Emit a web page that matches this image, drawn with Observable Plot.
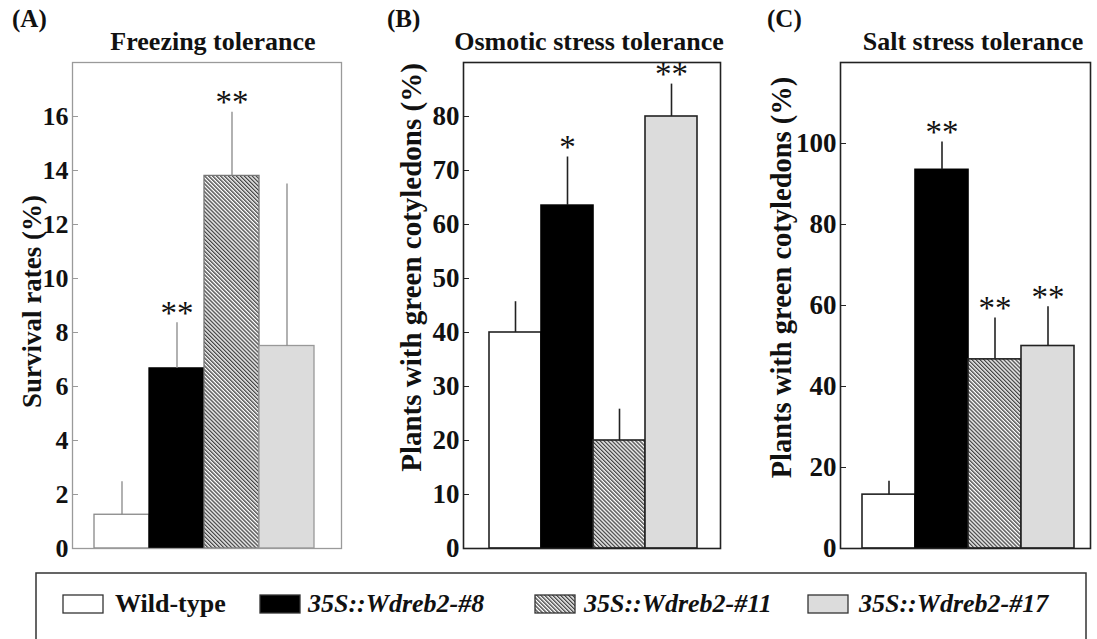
<!DOCTYPE html>
<html><head><meta charset="utf-8">
<script src="https://cdn.jsdelivr.net/npm/d3@7"></script>
<script src="https://cdn.jsdelivr.net/npm/@observablehq/plot@0.6"></script>
<style>
body{margin:0;background:#fff}
#root{position:relative;width:1097px;height:639px;overflow:hidden;background:#fff;font-family:"Liberation Serif","Times New Roman",serif;}
#root > svg{position:absolute;top:0}
</style></head>
<body><div id="root"></div>
<script>
// ---- data ----
const genotypes = ["Wild-type", "35S::Wdreb2-#8", "35S::Wdreb2-#11", "35S::Wdreb2-#17"];
const freezingMean = [1.25, 6.67, 13.8, 7.5];
const freezingSD   = [1.22, 1.69, 2.36, 6.0];
const freezingSig  = ["", "**", "**", ""];
const osmoticMean = [40, 63.5, 20, 80];
const osmoticSD   = [5.7, 9.0, 5.8, 6.0];
const osmoticSig  = ["", "*", "", "**"];
const saltMean = [13.3, 93.5, 46.7, 50];
const saltSD   = [3.3, 6.9, 10.2, 9.7];
const saltSig  = ["", "**", "**", "**"];
const freezingTicks = [0, 2, 4, 6, 8, 10, 12, 14, 16];
const osmoticTicks = [0, 10, 20, 30, 40, 50, 60, 70, 80];
const saltTicks = [0, 20, 40, 60, 80, 100];
const panelTags = ["(A)", "(B)", "(C)"];
const panelTitles = ["Freezing tolerance", "Osmotic stress tolerance", "Salt stress tolerance"];
const yLabels = ["Survival rates (%)", "Plants with green cotyledons (%)", "Plants with green cotyledons (%)"];

const fills = ["#ffffff", "#000000", "url(#hatch)", "#dcdcdc"];

const root = d3.select("#root");

// pattern defs
const defs = root.append("svg").attr("width", 0).attr("height", 0).style("position","absolute");
const pat = defs.append("defs").append("pattern")
  .attr("id", "hatch").attr("patternUnits", "userSpaceOnUse")
  .attr("width", 2.8).attr("height", 2.8).attr("patternTransform", "rotate(-45)");
pat.append("rect").attr("width", 2.8).attr("height", 2.8).attr("fill", "#fff");
pat.append("line").attr("x1", 0.7).attr("y1", 0).attr("x2", 0.7).attr("y2", 2.8)
  .attr("stroke", "#3a3a3a").attr("stroke-width", 1.3);

function panel(o) {
  const data = genotypes.map((g, i) => ({g, v: o.mean[i], hi: o.mean[i] + o.sd[i], s: o.sig[i]}));
  const chart = Plot.plot({
    width: o.width, height: 570,
    marginLeft: o.marginLeft, marginRight: o.marginRight, marginTop: 62, marginBottom: 22,
    style: {fontFamily: "'Liberation Serif', serif", background: "transparent", overflow: "visible", color: "#111"},
    x: {domain: genotypes, paddingInner: 0, paddingOuter: o.po, align: o.align, axis: null},
    y: {domain: o.domain, axis: null},
    marks: [
      ...genotypes.map((g, i) => Plot.barY(data.filter(d => d.g === g), {
        x: "g", y: "v", fill: fills[i], stroke: o.outline[i], strokeWidth: o.sw
      })),
      Plot.ruleX(data, {x: "g", y1: "v", y2: "hi", stroke: o.errColor, strokeWidth: o.sw}),
      Plot.text(data.filter(d => d.s), {x: "g", y: "hi", text: "s", lineAnchor: "bottom", dy: 1, fontSize: 33, fill: "#111"}),
      Plot.axisY({ticks: o.ticks, tickSize: 0, tickPadding: 4, fontSize: o.tickFont, fontWeight: "bold", label: null, fill: "#111"}),
      Plot.axisY({ticks: o.ticks, tickSize: -6, text: null, label: null, stroke: o.frameColor}),
      Plot.text([o.label], {frameAnchor: "left", rotate: -90, textAnchor: "middle", lineAnchor: "middle",
        dx: -o.labelOffset, dy: o.labelShift, fontSize: o.labelFont, fontWeight: "bold", fill: "#111"}),
      Plot.frame({stroke: o.frameColor, strokeWidth: o.sw})
    ]
  });
  d3.select(chart).style("left", o.left + "px");
  root.node().appendChild(chart);
}

panel({mean: freezingMean, sd: freezingSD, sig: freezingSig, domain: [0, 18], ticks: freezingTicks,
  label: yLabels[0], left: 0, width: 360, marginLeft: 72, marginRight: 19, po: 0.42, align: 0.45,
  frameColor: "#9a9a9a", errColor: "#888", outline: ["#888", "#000", "#777", "#999"], sw: 1.3,
  tickFont: 26, labelFont: 27, labelOffset: 40, labelShift: -4});
panel({mean: osmoticMean, sd: osmoticSD, sig: osmoticSig, domain: [0, 90], ticks: osmoticTicks,
  label: yLabels[1], left: 380, width: 360, marginLeft: 83, marginRight: 20, po: 0.45, align: 0.53,
  frameColor: "#222", errColor: "#222", outline: ["#222", "#000", "#222", "#222"], sw: 1.6,
  tickFont: 27, labelFont: 29, labelOffset: 52, labelShift: -38});
panel({mean: saltMean, sd: saltSD, sig: saltSig, domain: [0, 120], ticks: saltTicks,
  label: yLabels[2], left: 750, width: 347, marginLeft: 90, marginRight: 7, po: 0.325, align: 0.59,
  frameColor: "#222", errColor: "#222", outline: ["#222", "#000", "#222", "#222"], sw: 1.6,
  tickFont: 27, labelFont: 28.5, labelOffset: 59, labelShift: -28});

// overlay: tags, titles, legend
const ov = root.append("svg").attr("width", 1097).attr("height", 639)
  .style("font-family", "'Liberation Serif', serif").style("fill", "#111");
const tagX = [12, 387, 767];
const titleX = [213, 589, 973];
panelTags.forEach((t, i) => ov.append("text").attr("x", tagX[i]).attr("y", 27)
  .attr("font-size", 25).attr("font-weight", "bold").text(t));
panelTitles.forEach((t, i) => ov.append("text").attr("x", titleX[i]).attr("y", 50)
  .attr("text-anchor", "middle").attr("font-size", 26).attr("font-weight", "bold").text(t));

ov.append("rect").attr("x", 36).attr("y", 573).attr("width", 1050).attr("height", 90)
  .attr("fill", "none").attr("stroke", "#333").attr("stroke-width", 1.5);
const swX = [63, 260, 535, 808];
const txX = [115, 308, 584, 859];
genotypes.forEach((g, i) => {
  ov.append("rect").attr("x", swX[i]).attr("y", 595).attr("width", 40).attr("height", 18)
    .attr("fill", fills[i]).attr("stroke", "#333").attr("stroke-width", 1.3);
  ov.append("text").attr("x", txX[i]).attr("y", 612).attr("font-size", 26).attr("font-weight", "bold")
    .attr("font-style", i === 0 ? "normal" : "italic").text(g);
});
</script>
</body></html>
